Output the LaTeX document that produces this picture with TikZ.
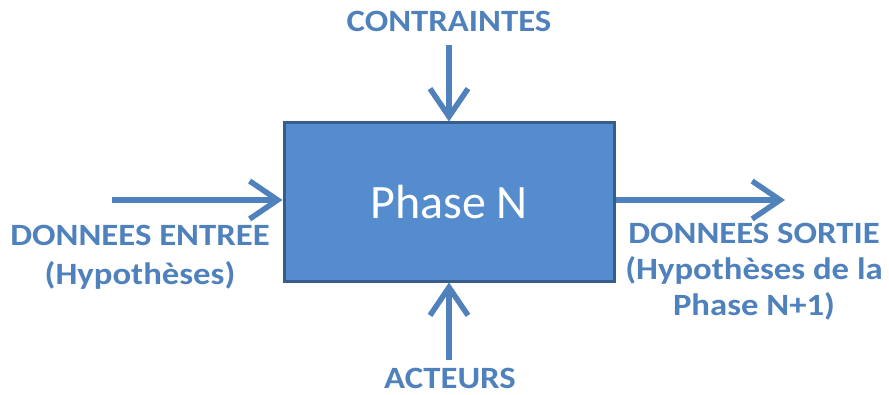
\documentclass[tikz,border=0pt]{standalone}
\usepackage{fontspec}
\setmainfont{Carlito}
\newfontfamily\labelfont[FakeStretch=1.12]{Carlito}
\usetikzlibrary{arrows.meta}
\definecolor{boxfill}{RGB}{85,140,205}
\definecolor{boxedge}{RGB}{56,93,138}
\definecolor{flowblue}{RGB}{79,129,189}
\tikzset{
  x=1pt, y=1pt,
  phasebox/.style={draw=boxedge, line width=3pt, fill=boxfill, minimum width=330pt,
    minimum height=158pt, inner sep=0pt, text=white, font=\fontsize{48}{52}\selectfont},
  flowlabel/.style={text=flowblue, font=\labelfont\bfseries\fontsize{31}{37}\selectfont,
    align=center, inner sep=0pt},
  flowarrow/.style={draw=flowblue, line width=5.5pt,
    -{Straight Barb[length=28pt, width=38pt, line width=5.5pt]}}
}
\begin{document}
\begin{tikzpicture}
\useasboundingbox (0,0) rectangle (889,394);
\node[phasebox] (phase) at (449,192) {Phase N};
\node[flowlabel, anchor=base] (contraintes) at (449,362) {CONTRAINTES};
\node[flowlabel, anchor=base] (acteurs) at (450,6) {ACTEURS};
% multi-line labels: the base anchor sits on the last line
\node[flowlabel, anchor=base, font=\labelfont\bfseries\fontsize{31}{39}\selectfont]
  (entree) at (140,110) {DONNEES ENTREE\\(Hypothèses)};
\node[flowlabel, anchor=base, font=\labelfont\bfseries\fontsize{31}{36}\selectfont]
  (sortie) at (754,79) {DONNEES SORTIE\\(Hypothèses de la\\Phase N+1)};
\coordinate (topstart) at (449,349);
\coordinate (botstart) at (449,34);
\coordinate (leftstart) at (112,194);
\coordinate (rightend) at (785,194);
\draw[flowarrow] (topstart) -- (phase.north);
\draw[flowarrow] (botstart) -- (phase.south);
\draw[flowarrow] (leftstart) -- (phase.west |- leftstart);
\draw[flowarrow] (phase.east |- rightend) -- (rightend);
\end{tikzpicture}
\end{document}
